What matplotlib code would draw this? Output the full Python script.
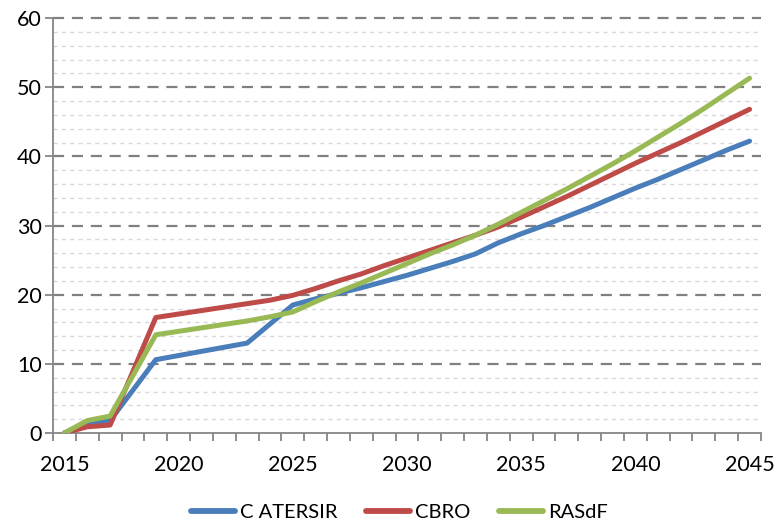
import matplotlib
matplotlib.use("Agg")
import matplotlib.pyplot as plt
from matplotlib.ticker import MultipleLocator, FixedLocator

plt.rcParams['font.family'] = ['Lato', 'DejaVu Sans']

years = list(range(2015, 2046))
c_atersir = [0.0, 1.4, 1.8, 6.2, 10.6, 11.2, 11.8, 12.4, 13.0, 15.75, 18.5,
             19.4, 20.2, 21.0, 21.9, 22.8, 23.8, 24.8, 25.9, 27.5, 28.8,
             30.0, 31.3, 32.6, 34.0, 35.4, 36.7, 38.1, 39.5, 40.9, 42.2]
cbro = [0.0, 0.9, 1.15, 8.9, 16.7, 17.2, 17.7, 18.2, 18.7, 19.2, 19.9,
        20.9, 22.0, 23.0, 24.2, 25.3, 26.4, 27.5, 28.6, 29.8, 31.2,
        32.7, 34.2, 35.8, 37.4, 39.0, 40.5, 42.0, 43.6, 45.2, 46.8]
rasdf = [0.0, 1.8, 2.45, 8.3, 14.2, 14.7, 15.2, 15.7, 16.2, 16.8, 17.5,
         19.0, 20.4, 21.7, 23.1, 24.5, 25.9, 27.2, 28.6, 30.2, 31.9,
         33.6, 35.3, 37.1, 38.9, 40.8, 42.8, 44.8, 46.9, 49.1, 51.3]
series_names = ['C ATERSIR', 'CBRO', 'RASdF']
colors = ['#4A7EBB', '#BE4B48', '#98B954']

fig = plt.figure(figsize=(7.76, 5.25), dpi=100)
ax = fig.add_axes([53/776, 1-433/525, (761-53)/776, (433-18)/525])

for vals, name, col in zip([c_atersir, cbro, rasdf], series_names, colors):
    ax.plot(years, vals, color=col, lw=3.6, label=name, solid_capstyle='round',
            solid_joinstyle='round', zorder=3)

ax.set_xlim(2014.5, 2045.5)
ax.set_ylim(0, 60)

# gridlines
for v in range(2, 60, 2):
    if v % 10 == 0:
        ax.axhline(v, color='#808080', lw=1.6, ls=(0, (5, 3.5)), zorder=1)
    else:
        ax.axhline(v, color='#D9D9D9', lw=1.0, ls=(0, (3, 3)), zorder=0)
ax.axhline(60, color='#808080', lw=1.6, ls=(0, (5, 3.5)), zorder=1, clip_on=False)

for s in ['top', 'right']:
    ax.spines[s].set_visible(False)
for s in ['left', 'bottom']:
    ax.spines[s].set_color('#868686')
    ax.spines[s].set_linewidth(1.3)

ax.yaxis.set_major_locator(MultipleLocator(10))
ax.xaxis.set_major_locator(FixedLocator(list(range(2015, 2046, 5))))
ax.xaxis.set_minor_locator(FixedLocator([y + 0.5 for y in range(2014, 2046)]))
ax.tick_params(axis='x', which='major', length=0, labelsize=15.5, pad=16, colors='black')
ax.tick_params(axis='x', which='minor', length=6, width=1.3, color='#868686', direction='out')
ax.tick_params(axis='y', which='major', length=6, width=1.3, color='#868686',
               labelsize=15.5, pad=2, labelcolor='black')
ax.set_xticklabels([str(y) for y in range(2015, 2046, 5)])

leg = fig.legend(loc='center', bbox_to_anchor=(0.515, 1-512/525), ncol=3, frameon=False,
                 fontsize=14.5, handlelength=2.2, handletextpad=0.25, columnspacing=1.4)
for h in leg.get_lines():
    h.set_linewidth(4.2)

fig.savefig('out.png', dpi=100)
